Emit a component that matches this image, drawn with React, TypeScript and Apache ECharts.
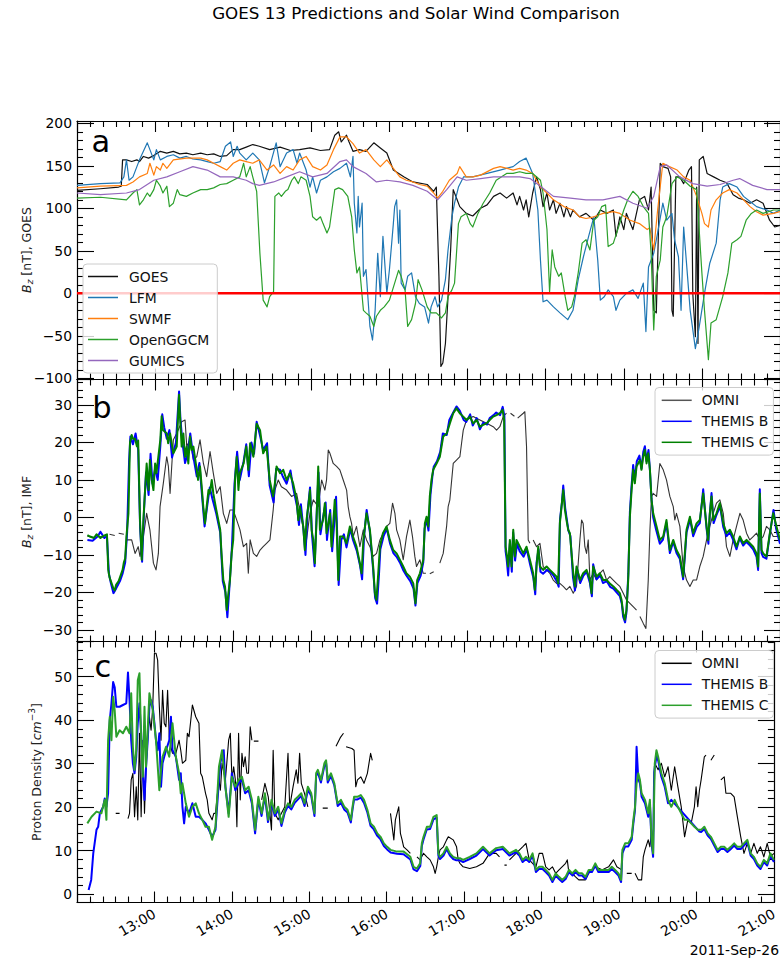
import React, { useEffect, useRef } from 'react';
import * as echarts from 'echarts';

// Time axis: minutes after 12:00 UT on 2011-09-26
type Pt = [number, number | null];

const chartTitle = 'GOES 13 Predictions and Solar Wind Comparison';
const dateLabel = '2011-Sep-26';
const hourTickLabels = ['12:00', '13:00', '14:00', '15:00', '16:00', '17:00', '18:00', '19:00', '20:00', '21:00'];
const panelLetters = ['a', 'b', 'c'];

const modelNames = ['GOES', 'LFM', 'SWMF', 'OpenGGCM', 'GUMICS'];
const windNames = ['OMNI', 'THEMIS B', 'THEMIS C'];

// ---- Panel a: Bz at GOES 13, observed and modelled [nT]
const goesBz: Pt[] = [[0,121],[18,123],[32,125],[34,126],[35,157],[38,157],[42,155],[46,157],[48,155],[51,161],[55,159],[59,162],[64,167],[69,165],[74,167],[79,164],[84,165],[89,163],[95,165],[100,163],[105,164],[110,161],[115,162],[120,169],[125,169],[130,172],[135,175],[140,173],[148,169],[156,172],[164,168],[171,169],[179,171],[187,168],[194,169],[198,186],[201,190],[203,178],[207,186],[209,178],[212,167],[217,169],[222,167],[228,177],[233,171],[238,165],[243,145],[251,137],[258,131],[269,128],[274,120],[276,125],[278,20],[279.5,-86],[281,-82],[283,-59],[285,-4],[287,51],[289,122],[292,110],[294,102],[299,94],[304,91],[310,100],[315,104],[320,114],[325,118],[330,112],[335,118],[338,104],[340,114],[343,98],[345,110],[347,90],[350,118],[353,137],[356,122],[358,102],[361,118],[363,98],[366,110],[368,94],[371,106],[374,90],[376,102],[379,90],[381,98],[386,90],[391,94],[397,86],[402,98],[407,94],[412,98],[414,67],[417,90],[420,75],[422,94],[427,75],[432,110],[436,114],[439,98],[441,125],[443,-20],[445,-23],[448,153],[450,149],[454,147],[456,137],[457,-20],[458,-27],[460,137],[463,137],[466,129],[470,145],[472,149],[473,0],[475,-51],[476,125],[477,-59],[478,157],[481,161],[484,141],[489,137],[494,133],[499,130],[504,116],[508,112],[512,110],[517,106],[522,110],[527,106],[532,86],[536,78],[540,80]];

const lfmBz: Pt[] = [[0,127],[18,129],[33,130],[36,137],[38,157],[40,133],[43,137],[46,149],[48,157],[54,177],[56,169],[59,157],[61,169],[64,157],[69,161],[74,163],[79,159],[84,161],[89,158],[95,157],[100,155],[105,153],[110,155],[114,173],[118,178],[120,161],[123,173],[125,165],[130,157],[135,165],[140,157],[144,130],[148,149],[153,177],[156,149],[161,165],[166,169],[169,153],[171,165],[176,145],[179,125],[181,137],[184,118],[187,133],[192,137],[197,143],[202,147],[207,153],[210,137],[212,161],[213,106],[215,71],[216,114],[217,78],[219,106],[220,20],[222,28],[225,-39],[227,-55],[229,-20],[231,47],[233,-4],[235,67],[238,0],[240,28],[243,82],[244,102],[245.5,110],[247,59],[248,98],[249,12],[252,4],[254,20],[257,24],[260,-4],[263,-12],[267,-16],[270,-35],[272,-16],[275,-4],[277,-16],[280,-8],[283,16],[285,51],[288,90],[290,106],[293,125],[297,137],[304,137],[315,141],[325,145],[335,149],[340,155],[345,159],[350,141],[354,98],[356,39],[358,-10],[361,-8],[366,-16],[371,-23],[377,-31],[381,-20],[385,16],[389,43],[393,67],[397,90],[400,39],[402,-8],[405,-4],[408,4],[412,-4],[414,-20],[417,-8],[422,0],[427,4],[431,-6],[435,12],[437,-45],[439,31],[443,47],[446,71],[450,106],[453,86],[457,94],[459,63],[462,43],[464,-20],[466,78],[468,39],[471,-20],[475,-65],[478,-39],[482,0],[486,35],[491,59],[494,110],[496,125],[501,129],[507,125],[512,114],[517,108],[522,102],[530,98],[535,94],[540,98]];

const swmfBz: Pt[] = [[0,124],[18,126],[38,127],[43,131],[48,137],[54,141],[56,153],[59,139],[61,149],[64,145],[66,153],[69,147],[74,157],[84,159],[95,159],[100,157],[105,153],[110,149],[115,145],[120,153],[125,157],[130,155],[135,153],[140,157],[146,145],[151,151],[156,141],[161,149],[166,145],[171,157],[176,161],[181,149],[187,145],[192,151],[197,169],[202,184],[207,184],[212,176],[217,165],[222,169],[228,157],[233,149],[238,157],[243,147],[248,137],[253,133],[258,131],[263,128],[269,126],[274,118],[277,112],[281,120],[286,133],[292,141],[294,149],[299,137],[304,137],[310,139],[320,147],[325,149],[335,145],[340,147],[345,145],[350,141],[356,125],[361,118],[366,110],[374,102],[381,98],[386,90],[391,88],[397,90],[404,94],[412,96],[417,94],[425,86],[432,82],[438,75],[440,77],[443,51],[446,98],[450,153],[455,149],[461,145],[466,137],[471,133],[476,114],[480,94],[482,82],[485,78],[487,98],[491,110],[496,118],[501,122],[507,118],[512,110],[517,102],[522,96],[527,92],[535,94],[540,96]];

const openggcmBz: Pt[] = [[0,112],[18,113],[38,110],[43,118],[46,122],[48,104],[51,110],[54,118],[56,114],[59,122],[61,133],[64,126],[66,118],[69,126],[71,102],[74,106],[77,122],[79,116],[84,114],[89,118],[95,122],[100,122],[105,124],[110,128],[115,129],[120,133],[125,137],[128,153],[130,137],[133,149],[135,137],[138,120],[140.5,47],[143,-8],[146,-16],[148,-4],[151,2],[152,114],[155,118],[157,114],[160,120],[162,122],[165,133],[167,137],[170,129],[172,137],[176,133],[179,114],[181,90],[184,86],[187,90],[189,82],[192,71],[194,78],[198,122],[201,124],[204,122],[208,114],[211,90],[213,51],[215,24],[217,31],[220,-20],[222,-23],[225,-27],[228,-39],[230,-27],[233,-20],[236,-16],[240,-8],[244,12],[247,27],[249,20],[252,4],[254,-39],[257,-31],[260,-12],[262,16],[265,4],[269,-16],[272,-23],[276,-23],[280,-29],[283,-23],[285,-4],[288,4],[290,12],[293,82],[295,90],[299,94],[302,82],[304,78],[308,94],[312,106],[317,118],[322,133],[330,141],[335,141],[340,143],[345,141],[350,141],[356,133],[358,118],[361,75],[363,2],[365,51],[367,31],[370,20],[372,24],[375,-4],[377,-20],[380,-16],[382,-4],[385,24],[388,59],[391,63],[394,51],[397,86],[400,90],[403,102],[406,104],[408,55],[412,59],[416,78],[420,98],[423,110],[427,120],[431,114],[435,102],[439,94],[441,47],[443,-43],[445,20],[448,39],[450,78],[453,90],[457,129],[461,137],[466,133],[471,126],[476,122],[480,24],[482,-20],[485,-78],[487,-35],[491,-31],[496,-4],[500,24],[503,59],[507,63],[510,67],[514,86],[518,94],[522,98],[527,94],[535,98],[540,98]];

const gumicsBz: Pt[] = [[0,118],[18,116],[38,118],[48,122],[59,133],[69,137],[79,143],[89,149],[100,145],[110,137],[120,137],[130,133],[135,129],[140,127],[151,131],[161,137],[171,143],[181,137],[192,141],[202,155],[207,157],[212,149],[222,141],[230,131],[238,133],[248,131],[258,127],[269,120],[277,110],[284,122],[292,137],[299,133],[310,135],[320,137],[330,137],[340,137],[348,135],[356,126],[366,114],[379,112],[391,110],[404,110],[417,114],[427,106],[438,100],[443,114],[448,149],[453,151],[463,137],[473,129],[484,126],[494,128],[504,133],[509,135],[519,127],[530,122],[540,122]];

const zeroLine: Pt[] = [[0,0],[540,0]];

// ---- Panel b: IMF Bz [nT]
const omniBz: Pt[] = [[8,-5],[12,-5.3],[13,null],[16,-5],[20,-5.2],[21,null],[25,-4.5],[29,-4.8],[30,null],[32,-4.2],[36,-4.5],[37,null],[38,-6],[42,-6],[44.6,-9.6],[47,-7.8],[48.4,-10.4],[51,-5.1],[53.5,1.1],[56,-3.3],[58.7,-12.2],[60.7,-14],[62.5,-9.6],[63.8,2.9],[66.3,9.1],[68.9,16.2],[70.2,13.6],[71.5,6.4],[74,20.7],[76.6,22.4],[80.4,25.5],[83,26],[84.3,18.9],[86.8,20.7],[89.4,15.3],[92,16.2],[94.5,20.7],[97.1,14.4],[99.6,10.9],[102.2,17.6],[104.7,11.8],[107.3,6.4],[110,8.2],[112.4,1.1],[115,-1.6],[117.5,2],[120,2],[122.7,-0.7],[125.2,-3.3],[127.8,-7.8],[130.3,-6.9],[131.6,-14.9],[133,-6],[135.5,-9.6],[138,-10.4],[140.6,-8.7],[143,-7.8],[145.6,-6.9],[148.2,-6],[150.7,2],[152,7.3],[154.6,10],[157,8.2],[161,7.3],[164.8,5.6],[168.7,6.4],[172.5,-0.7],[176.3,-6],[178.9,1.1],[181.5,4.7],[185.3,2.9],[187.9,10],[190.4,7.3],[191.7,10],[193,18],[194.3,17.1],[196.8,14.4],[199.4,13.6],[201.9,12.7],[204.5,10],[207.1,7.3],[208.3,2.9],[209.6,0.2],[210.9,-1.6],[212.2,-5.1],[214.7,-2.4],[217.3,-7.8],[219.9,-3.3],[222.4,-6],[225,-7.8],[227.5,-10.4],[230.1,-9.6],[232.7,-6],[235.2,-4.2],[237.8,-2.4],[240.3,-1.6],[242.4,3.8],[244.2,1.1],[245.5,-3.3],[248,-6],[250.6,-11.3],[253.1,-5.1],[255.7,-0.7],[257.7,-5.1],[259.5,-10.4],[260.8,-13.1],[263.4,-11.3],[265.9,-14.9],[268,-14.9],[269,null],[271,-15],[274,-14.5],[275,null],[278.7,-12.2],[281.3,-9.6],[283.9,-2.4],[285.1,2.9],[286.4,4.7],[289,14.4],[291.5,15.3],[294.1,16.2],[295.4,19.8],[296.7,23.3],[299.2,26],[304.3,26.9],[309.5,26],[314.6,25.1],[319.7,24.2],[322.3,23.3],[324.8,24.2],[327.4,26.9],[329.9,27.8],[331,null],[333,27.8],[336,27],[337,null],[338.5,26.5],[342.8,27.8],[344,28.2],[345.3,18.9],[346.6,-6],[347.9,-6.9],[349,null],[350.4,-6],[353,-7.8],[355.6,-6.9],[358.1,-13.1],[360.7,-14],[363.2,-14.9],[365.8,-16.7],[368.4,-17.6],[370.9,-17.6],[373.5,-18.4],[376,-19.3],[378.6,-18.4],[381.2,-20.2],[383.7,-18.4],[386.3,-6],[387.6,-0.7],[388.8,-1.6],[390.1,-7.8],[391.4,-9.6],[392.7,-6],[394,-16.7],[396.5,-14.9],[399.1,-16.7],[401.6,-14.9],[404.2,-14],[406.8,-16.7],[409.3,-15.8],[411.9,-16.7],[414.4,-17.6],[417,-18.4],[419.6,-20.2],[422.1,-22],[424.7,-22.9],[427.2,-23.8],[429.8,-24.7],[431,null],[432.4,-26.4],[434.9,-28.2],[437,-29.6],[438.8,-16.7],[440.1,-3.3],[441.3,5.6],[442.6,6.4],[445.2,5.6],[447.7,14.4],[450.3,12.7],[452.8,10],[455.4,5.6],[458,2.9],[459.2,-0.7],[460.5,1.1],[463.1,-2.4],[465.6,-13.1],[468.2,-16.7],[470.8,-18.4],[473.3,-16.7],[475.9,-16.7],[478.4,-13.1],[481,-10.4],[483.6,-6],[486.1,-2.4],[488.7,1.1],[491.2,3.8],[493.8,4.7],[496.4,1.1],[498.9,-7.8],[501.5,-10.4],[504,-6],[506.6,-2.4],[509.2,1.1],[511.7,-0.7],[514.3,-4.2],[516.8,-6],[519.4,-5.1],[522,-4.2],[524.5,-6],[527.1,-5.1],[529.6,-2.4],[532.2,-3.3],[534.8,-5.1],[540,-5.1]];

const themisBBz: Pt[] = [[8,-6],[12,-6.2],[16,-5],[18,-3.8],[21,-5.5],[23,-5],[24.5,-15],[26,-17.5],[28,-20.2],[30,-19],[33,-17],[35,-15],[37,-12],[38.5,-4],[40,15],[41,21.6],[43,19.5],[45,22.4],[47,18],[48.5,-3],[50,-11.8],[51.5,2],[53,12],[55,6],[56.5,17],[58,9],[60,13],[62,10],[64,19],[65.5,27.5],[67,24],[69,21],[71,23.3],[73,16],[76,20],[78.4,33.6],[79.5,26],[81,20],[83,14.5],[85,17],[87,22.4],[89,17],[92,11],[94,14.5],[96,6],[98,-2.4],[100,3],[102,8],[104,5],[107,1],[110,-4],[112,-17],[114,-20],[115.5,-26.6],[117,-19],[119,-8],[121,9],[123,17.5],[125,10],[128,15],[130,19.5],[132,11],[134,20],[136,17],[138,25.5],[140.5,22],[143,18],[146,19.8],[148,8.5],[151,4],[153,13],[156,12.7],[158,11],[161,9],[164,12.5],[166,8],[169,3],[170.5,-2],[172,3.5],[174,-3.5],[175.5,-10],[177,1],[179,8],[180.5,-4.5],[182.5,-13],[184,0],[185.5,12],[187,-4.5],[189,0],[191,4],[192,-6],[194.5,2],[196,-9],[197.5,-2],[199,5.5],[201,-18],[203,-6],[205,-4.5],[207,-8],[210,-3],[212,-6],[215,-9],[217.5,-13],[219,-16.5],[220.5,-5],[222.5,2],[225,-4],[227.5,-14],[229,-21.5],[230.5,-23],[232,-15],[233,-8.5],[235.5,-5],[238,-3],[240.5,-7],[243,-9.5],[245.5,-10.5],[248,-12],[250.5,-14],[253,-15.5],[256,-17],[258.5,-19],[260,-23.5],[261.5,-17.5],[264,-15.5],[266,-12],[267,-3],[268.5,-0.5],[270,-3.5],[271.5,6],[273,11],[274,13.5],[276.5,15],[279,17.5],[281,22.4],[284,22],[286,26],[289,28],[291.5,29.6],[294,28.5],[297,26],[299,25.5],[302,27.5],[304,24.5],[307,26.5],[309.5,23.5],[312,25.3],[315,24.8],[317,26.5],[320,27.3],[322,28],[325,27.3],[327,29.5],[328.3,27],[329.2,-9],[330,-11],[331.2,-15.5],[332.5,-7],[334,-14.5],[335,-4],[336.5,-11.5],[338,-7],[340,-9],[343,-10.5],[345.5,-8.5],[348,-12.5],[350.5,-16],[352,-20.5],[353,-12],[354.5,-8.5],[356,-14.5],[358,-15],[361,-14],[363.5,-14.5],[366,-15.5],[368.5,-17],[370,-18.5],[371,-0.5],[372.5,4],[373.5,8.5],[375,2.5],[376,0],[377.5,-3.5],[379,-5],[380,-10.5],[381,-16],[382.5,-19.5],[384,-13.5],[386.5,-17.5],[389,-15.5],[391.5,-14.5],[394,-17.5],[395.5,-21],[396.5,-12.5],[399,-16.5],[402,-15.5],[404,-17.5],[407,-17],[409.5,-18.5],[412,-19],[414.5,-20],[417,-21],[418.5,-23],[419.5,-26.5],[421,-28],[422,-25.5],[423.5,-15],[424.7,1.5],[426,8.5],[427.2,14],[428.5,10],[430,15],[432,16.5],[433.6,13],[435,17.5],[436.2,19],[437.5,15],[439,18],[440,13],[441.3,5],[442.6,0],[445,-3.5],[447.7,-7],[450,-6],[452.8,-1.5],[455.4,-9.5],[458,-6.5],[460.5,-9.5],[463,-11],[465.6,-16.5],[467,-10],[468.2,-4],[471,-0.5],[473.3,-5],[476,-2.5],[478.4,-1.5],[481,7.5],[483.6,-3],[485,-7],[486,0.5],[487.4,6.5],[489,-1.5],[491,0.5],[494,3],[496.4,-2.5],[499,-5],[501.5,-4],[504,-6],[506.6,-8.5],[509,-5.5],[511.7,-7.5],[514,-6.5],[517,-7.5],[519.4,-8.5],[522,-10.5],[523.2,-14],[524.5,7.5],[525.8,-9.5],[527,-10.5],[529.6,-11],[532,-5],[535,2],[537,-3],[540,-7]];

const themisCBz: Pt[] = [[8,-4.7],[10,-5.1],[13,-5.5],[15,-4.5],[18,-5.5],[20,-5],[23,-4.5],[24,-14],[25,-16],[28,-19],[29,-19.5],[30,-18],[32,-17],[33,-16],[35,-14],[36,-12],[37,-11],[38,-5],[39.5,1],[40.7,20],[42,22],[43,21],[44.6,21],[46,19],[47,20.5],[48.4,-0.7],[49.7,-11.3],[51,-0.7],[52,5.6],[53.5,14.4],[55,7.3],[56,15.3],[57.4,10],[58.7,7.3],[60,14.4],[61,11.8],[64,20.7],[65,27],[66,23.3],[69,22.4],[70,19.8],[71.5,22.4],[74,17.1],[76.6,18.9],[78.4,32.7],[79,27.8],[80.4,18.9],[81.7,22.4],[83,16.2],[84.3,18.9],[85.5,14.4],[86.8,21.6],[88,18],[89.4,18.9],[92,12.7],[93,10],[94.5,13.6],[96,7.3],[97,2.9],[98.3,-1.6],[99.6,2.9],[101,7.3],[102,6.4],[103.5,10],[104.7,6.4],[107,2],[110,-3.3],[111,-9.6],[112.4,-16.7],[113.7,-18.4],[115,-24.7],[116.3,-20.2],[117.5,-16.7],[118.8,-9.6],[120,-6],[121.4,10],[122.7,16.2],[124,7.3],[125,11.8],[128,14.4],[130,18.9],[131.6,12.7],[133,19.8],[135.5,16.2],[138,25],[140.6,23.3],[143,17.1],[145.6,18.9],[148,10],[150.7,5.6],[152,9.1],[153.3,13.6],[156,11.8],[158.4,12.7],[161,10],[163.5,11.8],[166,9.1],[168.7,4.7],[170,-0.7],[171.2,2.9],[173.8,-2.4],[175,-8.7],[176.3,-0.7],[177.6,2.9],[179,7.3],[180.2,-3.3],[181.5,-6],[182.7,-12.2],[184,-0.7],[185.3,13.6],[186.6,-3.3],[189,-0.7],[190.4,3.8],[191.7,-4.2],[194.3,1.1],[195.5,-7.8],[196.8,-1.6],[198,4.7],[199.4,-1.6],[200.7,-16.7],[202,-5.1],[204.5,-5.1],[207,-6.9],[209.6,-2.4],[212,-5.1],[214.7,-7.8],[217.3,-12.2],[218.6,-14.9],[220,-6],[222.4,1.1],[225,-3.3],[227.5,-13.1],[228.8,-20.2],[230,-22],[231.4,-14.9],[232.7,-7.8],[235,-4.2],[237.8,-2.4],[240.3,-6],[242.9,-8.7],[245.5,-9.6],[248,-11.3],[250.6,-13.1],[253,-14.9],[255.7,-15.8],[258.3,-17.6],[260,-22.9],[261.3,-16.7],[263.4,-14.9],[266,-11.3],[267.2,-1.6],[268.5,0.2],[269.8,-2.4],[271,5.6],[272.3,10],[273.6,12.7],[276.2,14.4],[278.7,16.2],[281.3,21.6],[284,22.4],[286.4,25.1],[289,27.8],[291.5,29.1],[294,27.8],[296.7,26.9],[299.2,26],[301.8,26.9],[304.3,25.1],[307,26],[309.5,24.2],[312,24.7],[314.6,25.1],[317,26],[319.7,26.9],[322.3,27.3],[324.8,27.8],[326.9,28.7],[328.1,26],[329.2,-7.8],[330,-9.6],[331.2,-13.1],[332.5,-6],[333.8,-13.1],[335.1,-3.3],[336.3,-10.4],[337.6,-6],[340.2,-7.8],[342.8,-9.6],[345.3,-7.8],[347.9,-11.3],[350.4,-14.9],[351.7,-19.3],[353,-13.1],[354.3,-7.8],[355.6,-13.1],[358.1,-14],[360.7,-13.1],[363.2,-14],[365.8,-14.9],[368.4,-15.8],[369.6,-17.6],[370.9,-1.6],[372.2,2.9],[373.5,7.3],[374.8,2],[376,-0.7],[377.3,-3.3],[378.6,-4.2],[379.9,-9.6],[381.2,-14.9],[382.4,-18.4],[383.7,-13.1],[386.3,-16.7],[388.8,-14.9],[391.4,-14],[394,-16.7],[395.2,-20.2],[396.5,-13.1],[399.1,-15.8],[401.6,-14.9],[404.2,-16.7],[406.8,-16.7],[409.3,-17.6],[412,-18.4],[414.4,-19.3],[417,-20.2],[418.3,-22],[419.6,-25.6],[420.8,-27.3],[422.1,-24.7],[423.4,-16.7],[424.7,0.2],[426,7.3],[427.2,12.7],[428.5,9.1],[429.8,13.6],[432.4,15.3],[433.6,12.7],[434.9,16.2],[436.2,18],[437.5,14.4],[438.8,17.1],[440.1,12.7],[441.3,4.7],[442.6,1.1],[445.2,-2.4],[447.7,-6],[450.3,-5.1],[452.8,-0.7],[455.4,-8.7],[458,-6],[460.5,-8.7],[463.1,-10.4],[465.6,-15.8],[466.9,-9.6],[468.2,-3.3],[470.8,0.2],[473.3,-4.2],[475.9,-1.6],[478.4,-0.7],[481,6.4],[483.6,-2.4],[484.8,-6],[486.1,1.1],[487.4,5.6],[488.7,-0.7],[491.2,1.1],[493.8,3.8],[496.4,-1.6],[498.9,-4.2],[501.5,-3.3],[504,-5.1],[506.6,-7.8],[509.2,-5.1],[511.7,-6.9],[514.3,-6],[516.8,-6.9],[519.4,-7.8],[522,-9.6],[523.2,-13.1],[524.5,6.4],[525.8,-8.7],[527.1,-9.6],[529.6,-10.4],[532.2,-4.2],[534.8,1.1],[537.3,-2.4],[540,-6]];

// ---- Panel c: proton density [cm^-3]
const omniDensity: Pt[] = [[30,18.6],[33,18.6],[34,null],[39.5,17.4],[40.7,18.6],[42,26.3],[43.3,27.8],[44.6,17.8],[45.9,24.7],[47.1,17.1],[48.4,37],[49.7,17.8],[51,35.4],[52.3,18.6],[53.5,29.3],[54.8,36.2],[56.1,40.8],[57.4,37.7],[58.7,43.1],[60,55.4],[61.2,55.4],[62.5,53.8],[63.8,43.1],[65.1,35.4],[66.3,46.9],[67.6,39.3],[68.9,38.5],[70.2,46.9],[71.5,36.2],[72.7,33.9],[74,32.4],[76.6,32.4],[79.1,35.4],[80.4,33.1],[81.7,30.1],[84.3,30.8],[85.5,37],[86.8,36.2],[89.4,43.5],[92,40.8],[94.5,39.3],[95.8,27.8],[97.1,27],[99.6,23.2],[100.9,21.7],[102.2,18.6],[104.7,17.1],[106,18.6],[107.3,18.6],[109.9,26.3],[111.1,23.9],[112.4,30.1],[115,26.3],[117.5,35.4],[118.8,37],[120.1,26.3],[121.4,29.3],[122.7,26.3],[123.9,15.5],[125.2,37],[126.5,21.7],[127.8,32.4],[129,29.3],[130.3,31.6],[131.6,27.8],[132.9,27.8],[134.2,38.5],[135.5,35.4],[136,null],[137,35.2],[140.6,35.2],[141.5,null],[143.1,21.7],[145.6,25.5],[148.2,22.4],[150.7,14.8],[152,33.1],[153.3,18.6],[155.9,17.1],[158.4,18.6],[161,20.1],[163.5,32.4],[164.8,20.1],[167.4,24.7],[169.9,28.6],[171.2,25.5],[172.5,32.4],[173.8,25.5],[176.3,23.2],[178.9,20.1],[180,null],[190.4,19.8],[194.3,19.8],[195,null],[200.7,34],[204,36],[206.5,37],[207,null],[208.5,33.9],[213,33.5],[214.7,33.1],[216,24.7],[217.3,26.3],[219.9,27],[222.4,25.5],[225,27.8],[227.5,32.4],[228.8,30.8],[229.5,null],[242.9,18.6],[245.5,12.5],[246.7,17.1],[249.3,20.1],[250.6,14],[251.9,12.5],[253.1,10.9],[255.7,10.2],[258.3,9.4],[259,null],[263.4,8.6],[265.9,7.9],[268.5,9.4],[271.1,8.6],[273.6,7.9],[276.2,6.3],[277.5,4.8],[278.7,6.3],[280,8.6],[281.3,10.2],[283.9,10.9],[286.4,12.5],[287.7,13.2],[291.5,12.5],[294.1,10.9],[295.4,7.9],[296.7,7.1],[299.2,6.3],[304.3,5.9],[309.5,6.3],[314.6,7.1],[319.7,9.4],[324.8,9.4],[327.4,8.6],[328,null],[331.2,6.7],[333,6.7],[334,null],[335.1,7.9],[340.2,9.4],[345.3,10.9],[347.9,11.7],[350.4,7.9],[355.6,6.3],[358.1,9.4],[360.7,9.4],[363.2,6.3],[365.8,5.6],[368.4,6.3],[370.9,4.8],[373.5,5.6],[378.6,7.1],[379.9,7.9],[381.2,4.8],[383.7,4.8],[386.3,4],[388.8,3.3],[391.4,3.3],[394,3.3],[396.5,4.8],[401.6,6.3],[406.8,5.6],[411.9,6.3],[415.7,7.9],[418.3,6.3],[422.1,5.6],[423,null],[426,4.8],[429.8,4.8],[431,null],[432.4,4.8],[434.9,3.3],[437.5,3.3],[438.8,8.6],[440.1,10.2],[442.6,12.5],[443.9,10.9],[445.2,14.8],[446.4,9.4],[447.7,30.1],[450.3,28.6],[452.8,30.1],[455.4,27],[458,29.3],[460.5,23.9],[463.1,29.3],[465.6,24.7],[468.2,20.1],[470.8,13.2],[473.3,17.1],[475.9,16.3],[478.4,20.1],[479.7,24.7],[481,20.1],[482.3,23.9],[483.6,26.3],[486.1,31.6],[487.4,32],[488.5,null],[491.2,30.8],[493.8,32],[495,null],[498.9,26.3],[501.5,27],[502.8,23.2],[506.6,23.2],[509.2,22.4],[511.7,17.8],[514.3,13.2],[516.8,9.4],[519.4,11.7],[522,9.4],[524.5,11.7],[527.1,9.4],[529.6,10.9],[532.2,8.6],[534.8,11.7],[537.3,8.6],[540,9.4]];

const themisBDensity: Pt[] = [[9,1],[11,3.3],[12.6,9.4],[15.1,14.8],[16.4,15.5],[17.7,18.6],[20.3,20.1],[21.5,22],[22.8,20.1],[24.1,23.2],[25.4,40],[26.7,43.9],[28,48.8],[29.2,47.6],[30.5,43.1],[33,43.1],[35.6,43.5],[38.2,43.9],[39.5,51],[40.7,44.6],[42,35.4],[43.3,30.1],[44.6,27.8],[45.9,31.6],[47.1,39.3],[48.4,43.9],[49.7,37],[51,27.8],[52.3,21.7],[53.5,29.3],[54.8,35.4],[56.1,43.1],[57.4,44.6],[58.7,43.1],[60,39.3],[61.2,35.4],[62.5,33.1],[63.8,37],[65.1,24.7],[66.3,30.1],[67.6,31.6],[69,33.1],[71.5,35.4],[72.8,40.8],[74,33.1],[76.6,31.6],[79.1,26.3],[80.4,27.8],[81.7,20.1],[83,16.3],[84.3,20.1],[86.8,18.6],[89.4,20.9],[92,17.8],[94.5,17.8],[97.1,17.1],[99.6,16.3],[102.2,14.8],[104.7,13.2],[107.3,14.8],[110,26.3],[111.1,30.1],[112.4,32.4],[113.7,33.1],[115,24.7],[117.5,18.6],[120,27.8],[122.7,23.9],[125.2,25.5],[127.8,26.3],[130.3,23.2],[133,23.9],[135.5,20.9],[138,14],[140.5,21.8],[143,18],[145.6,22.6],[148,16.6],[150.7,21],[153.3,18],[156,19.5],[158.4,15.7],[161,18.8],[163.5,20.3],[166,19.5],[168.7,21],[171.2,21.8],[173.8,22.6],[176.3,20.3],[179,24],[181.5,22.6],[184,18],[185.3,27.2],[186.6,28],[189,25.7],[191.7,29.5],[193,30.2],[194.3,25.7],[196.8,27.2],[199.4,25],[202,20.3],[204.5,21],[207,19.5],[209.6,18.8],[212.2,16.5],[213.5,19.5],[214.7,21.8],[217.3,21.8],[220,22.2],[222.4,21],[225,18.8],[227.5,15.7],[230,14.9],[232.7,13.4],[235.2,12.6],[237.8,11.1],[240.3,10.3],[243,9.6],[248,9.3],[253,9.2],[258.3,8],[260.8,5.7],[263.4,5.3],[266,6.5],[267.2,11.1],[268.5,12.6],[271,14.9],[273.6,15],[276.2,17.2],[278.7,17.6],[280,8.9],[281.3,8.1],[284,8.9],[286.4,10.4],[289,8.9],[291.5,8.1],[294,7.8],[296.7,7.8],[299.2,7.4],[304.3,8.1],[309.5,8.9],[314.6,10.4],[319.7,8.9],[324.8,10.1],[330,10.4],[335,8.9],[340,9.7],[342.8,8.9],[345.3,7.4],[348,8.1],[350.4,7.4],[353,8.9],[355.6,5.1],[358,5.8],[360.7,5.8],[363.2,5.1],[365.8,4.3],[368.4,2.8],[371,4.3],[373.5,3.5],[376,2.8],[378.6,3.5],[381.2,5.1],[384,4.3],[386.3,5.1],[389,4.3],[391.4,4.3],[394,3.5],[396.5,5.1],[399,5.1],[401.6,6.6],[404,5.1],[407,5.1],[409.3,5.1],[412,5.1],[414.4,5.8],[417,5.1],[419.6,4.3],[421.6,2.8],[422.6,9.4],[424.7,11],[427.2,11],[429.8,12.5],[431.1,16.3],[432.4,19.4],[433.6,33.9],[434.9,26.5],[436.2,25.5],[437.5,22.4],[440.1,20.9],[442.6,17.8],[443.9,21],[445.2,11.7],[446.4,8.6],[447.2,28],[447.7,29.3],[449,31.6],[450.3,30.8],[452.8,27],[455.4,24.7],[458,20.9],[460.5,21.7],[482.3,14.4],[483.6,14.3],[486.1,15],[488.7,13.5],[491.2,12.7],[493.8,11.2],[496.4,9.7],[498.9,10.4],[501.5,10.4],[504,9.7],[506.6,10.4],[509.2,11.2],[511.7,10.4],[514.3,10.4],[516.8,11.2],[519.4,12],[522,8.9],[524.5,8.1],[527.1,6.6],[529.6,5.8],[532.2,7.4],[534.8,6.6],[537.3,8.9],[540,7.4]];

const themisCDensity: Pt[] = [[8,16.3],[11.3,17.8],[15.1,19],[18.9,18.6],[21.5,21.7],[22.8,17.1],[24.1,35.4],[25.4,40.8],[26.7,35.4],[28,45.4],[29.2,42.3],[30.5,36.2],[33,37.7],[35.6,37],[38.2,38.5],[40.7,37],[42,46.2],[43.3,33.9],[44.6,28.6],[45.9,33.1],[47.1,49.2],[48.4,50.8],[49.7,35.4],[51,27],[52.3,43.1],[53.5,29.3],[56.1,46.2],[58.7,42.3],[61.2,35.4],[63.8,23.9],[65.1,28.6],[66.3,31.6],[69,33.9],[71.5,31.6],[74,39.3],[76.6,31.6],[79.1,27.8],[80.4,23.2],[81.7,25.5],[84.3,20.9],[86.8,17.8],[89.4,20.1],[92,20.9],[94.5,18.6],[97.1,17.1],[99.6,15.5],[102.2,15.5],[104.7,12.5],[107.3,15.5],[110,29.3],[112.4,33.1],[115,24.7],[117.5,17.8],[120,27],[122.7,24.7],[125.2,26.3],[127.8,27],[130.3,23.9],[133,24.7],[135.5,21.7],[138,14.8],[140.5,22.4],[143.1,18.6],[145.6,23.2],[148.2,17.1],[150.7,21.7],[153.3,18.6],[155.9,20.1],[158.4,16.3],[161,19.4],[163.5,20.9],[166.1,20.1],[168.7,21.7],[171.2,22.4],[173.8,23.2],[176.3,20.9],[178.9,24.7],[181.5,23.2],[184,18.6],[185.3,27.8],[186.6,28.6],[189.1,26.3],[191.7,30.1],[193,30.8],[194.3,26.3],[196.8,27.8],[199.4,25.5],[201.9,20.9],[204.5,21.7],[207.1,20.1],[209.6,19.4],[212.2,17.1],[213.5,20.1],[214.7,22.4],[217.3,22.4],[219.9,22.8],[222.4,21.7],[225,19.4],[227.5,16.3],[230.1,15.5],[232.7,14],[235.2,13.2],[237.8,11.7],[240.3,10.9],[242.9,10.2],[248,9.8],[253.1,9.8],[258.3,8.6],[260.8,6.3],[263.4,5.9],[265.9,7.1],[267.2,11.7],[268.5,13.2],[271.1,15.5],[273.6,15.5],[276.2,17.8],[278.7,18.2],[280,9.4],[281.3,8.6],[283.9,9.4],[286.4,10.9],[289,9.4],[291.5,8.6],[294.1,8.3],[296.7,8.3],[299.2,7.9],[304.3,8.6],[309.5,9.4],[314.6,10.9],[319.7,9.4],[324.8,10.6],[329.9,10.9],[335.1,9.4],[340.2,10.2],[342.8,9.4],[345.3,7.9],[347.9,8.6],[350.4,7.9],[353,9.4],[355.6,5.6],[358.1,6.3],[360.7,6.3],[363.2,5.6],[365.8,4.8],[368.4,3.3],[370.9,4.8],[373.5,4],[376,3.3],[378.6,4],[381.2,5.6],[383.7,4.8],[386.3,5.6],[388.8,4.8],[391.4,4.8],[394,4],[396.5,5.6],[399.1,5.6],[401.6,7.1],[404.2,5.6],[406.8,5.6],[409.3,5.6],[411.9,5.6],[414.4,6.3],[417,5.6],[419.6,4.8],[421.6,3.3],[422.6,10.2],[424.7,11.7],[427.2,11.7],[429.8,13.2],[431.1,17.1],[432.4,20.1],[433.6,25.5],[434.9,27.8],[436.2,26.3],[437.5,23.2],[440.1,21.7],[442.6,18.6],[443.9,21.7],[445.2,12.5],[446.4,9.4],[447.7,30.1],[449,33.1],[450.3,31.6],[452.8,27.8],[455.4,25.5],[458,21.7],[460.5,20.1],[463.1,21.7],[465.6,20.1],[468.2,18.6],[470.8,17.1],[473.3,17.1],[475.9,16.3],[478.4,15.5],[481,14.8],[483.6,14.8],[486.1,15.5],[488.7,14],[491.2,13.2],[493.8,11.7],[496.4,10.2],[498.9,10.9],[501.5,10.9],[504,10.2],[506.6,10.9],[509.2,11.7],[511.7,10.9],[514.3,10.9],[516.8,11.7],[519.4,12.5],[522,9.4],[524.5,8.6],[527.1,7.1],[529.6,6.3],[532.2,7.9],[534.8,7.1],[537.3,9.4],[540,7.9]];

const FONT = "'DejaVu Sans', 'Liberation Sans', sans-serif";

// Panel frames (pixel layout) and value ranges
const panels = [
  { top: 121, height: 258.5, min: -101.4, max: 202.7, split: 6 },
  { top: 379.5, height: 262, min: -33.1, max: 36.8, split: 7 },
  { top: 641.5, height: 261, min: -1.9, max: 58.1, split: 6 },
];
const GRID_LEFT = 77;
const GRID_WIDTH = 704;

const fmtNum = (v: number) => (v < 0 ? '\u2212' + Math.abs(v) : String(v));

function line(name: string, data: Pt[], color: string, width: number, axis: number, z = 2) {
  return {
    type: 'line',
    name,
    data,
    xAxisIndex: axis * 2,
    yAxisIndex: axis * 2,
    showSymbol: false,
    symbol: 'none',
    connectNulls: false,
    silent: true,
    animation: false,
    z,
    lineStyle: { color, width, join: 'round' },
    itemStyle: { color },
  };
}

export default function App() {
  const ref = useRef<HTMLDivElement>(null);

  useEffect(() => {
    if (!ref.current) return;
    const chart = echarts.init(ref.current, undefined, { renderer: 'svg' });

    const tickLine = { color: '#000', width: 1.1 };
    const xAxes: any[] = [];
    const yAxes: any[] = [];
    panels.forEach((p, i) => {
      const xBase = {
        type: 'value', gridIndex: i, min: 0, max: 540, interval: 60,
        axisLine: { show: true, onZero: false, lineStyle: { color: '#000', width: 1.2 } },
        axisTick: { show: true, inside: true, length: 11, lineStyle: tickLine },
        minorTick: { show: true, splitNumber: 6, length: 6, lineStyle: tickLine },
        splitLine: { show: false },
      };
      xAxes.push({
        ...xBase, position: 'bottom',
        axisLabel: i === 2 ? {
          show: true, rotate: 30, margin: 10, fontSize: 13.9, fontFamily: FONT, color: '#000',
          showMinLabel: false,
          formatter: (v: number) => hourTickLabels[Math.round(v / 60)] ?? '',
        } : { show: false },
      });
      xAxes.push({ ...xBase, position: 'top', axisLabel: { show: false } });

      const yBase = {
        type: 'value', gridIndex: i, min: p.min, max: p.max, splitNumber: p.split,
        axisLine: { show: true, onZero: false, lineStyle: { color: '#000', width: 1.2 } },
        minorTick: { show: true, splitNumber: 5, length: 6, lineStyle: tickLine },
        splitLine: { show: false },
      };
      yAxes.push({
        ...yBase, position: 'left',
        axisTick: { show: true, inside: true, length: 17, lineStyle: tickLine },
        axisLabel: {
          show: true, margin: 5, fontSize: 13.9, fontFamily: FONT, color: '#000',
          showMinLabel: false, showMaxLabel: false, formatter: fmtNum,
        },
      });
      yAxes.push({
        ...yBase, position: 'right',
        axisTick: { show: true, inside: true, length: 16, lineStyle: tickLine },
        axisLabel: { show: false },
      });
    });

    const legendBase = {
      orient: 'vertical', icon: 'rect', itemWidth: 30, itemHeight: 1.5, itemGap: 7,
      backgroundColor: 'rgba(255,255,255,0.8)', borderColor: '#cccccc', borderWidth: 1, borderRadius: 4,
      selectedMode: false, z: 10,
    };

    const ylabelRich = {
      i: { fontStyle: 'italic', fontSize: 12.5, fontFamily: FONT, lineHeight: 17, fill: '#222' },
      s: { fontStyle: 'italic', fontSize: 9, fontFamily: FONT, lineHeight: 9, verticalAlign: 'bottom', fill: '#222' },
      p: { fontSize: 9, fontFamily: FONT, lineHeight: 9, verticalAlign: 'top', fill: '#222' },
      t: { fontSize: 12.5, fontFamily: FONT, lineHeight: 17, fill: '#222' },
    };
    const yLabel = (text: string, x: number, y: number) => ({
      type: 'text', x, y, rotation: Math.PI / 2, z: 20,
      style: { text, rich: ylabelRich, fontSize: 12.5, fontFamily: FONT, fill: '#222', align: 'center', verticalAlign: 'middle' },
    });
    const letter = (t: string, x: number, y: number) => ({
      type: 'text', x, y, z: 20,
      style: { text: t, fontSize: 30.5, fontFamily: FONT, fill: '#000', align: 'left', verticalAlign: 'middle' },
    });

    chart.setOption({
      animation: false,
      backgroundColor: '#ffffff',
      grid: panels.map((p) => ({ left: GRID_LEFT, top: p.top, width: GRID_WIDTH, height: p.height })),
      xAxis: xAxes,
      yAxis: yAxes,
      legend: [
        {
          ...legendBase, data: modelNames, left: 83, top: 264, padding: [5.5, 8, 5.5, 5],
          textStyle: { fontSize: 13.9, fontFamily: FONT, color: '#111', lineHeight: 14, padding: [0, 0, 0, 6] },
        },
        {
          ...legendBase, data: [{ name: windNames[0], itemStyle: { color: '#555555' } }, windNames[1], windNames[2]],
          left: 655, top: 387.5, padding: [5.8, 5, 5.8, 6.7],
          textStyle: { fontSize: 13.9, fontFamily: FONT, color: '#111', lineHeight: 14, padding: [0, 0, 0, 5] },
        },
        {
          ...legendBase,
          data: [
            { name: windNames[0], itemStyle: { color: '#000000' } },
            { name: windNames[1], itemStyle: { color: '#0000ff' } },
            { name: windNames[2], itemStyle: { color: '#2ca02c' } },
          ],
          left: 655, top: 650.5, padding: [5.8, 5, 5.8, 6.7],
          textStyle: { fontSize: 13.9, fontFamily: FONT, color: '#111', lineHeight: 14, padding: [0, 0, 0, 5] },
        },
      ],
      graphic: [
        {
          type: 'text', x: 416, y: 13, z: 20,
          style: { text: chartTitle, fontSize: 16.7, fontFamily: FONT, fill: '#000', align: 'center', verticalAlign: 'middle' },
        },
        letter(panelLetters[0], 91.5, 141.5),
        letter(panelLetters[1], 92.3, 407.5),
        letter(panelLetters[2], 94.5, 666),
        yLabel('{i|B}{s|z}{t| [nT], GOES}', 26, 250),
        yLabel('{i|B}{s|z}{t| [nT], IMF}', 26, 512),
        yLabel('{t|Proton Density [}{i|cm}{p|\u22123}{t|]}', 36, 772),
        {
          type: 'text', x: 779, y: 950, z: 20,
          style: { text: dateLabel, fontSize: 13.9, fontFamily: FONT, fill: '#000', align: 'right', verticalAlign: 'middle' },
        },
      ],
      series: [
        line(modelNames[0], goesBz, '#111111', 1.2, 0),
        line(modelNames[1], lfmBz, '#1f77b4', 1.2, 0),
        line(modelNames[2], swmfBz, '#ff7f0e', 1.2, 0),
        line(modelNames[3], openggcmBz, '#2ca02c', 1.2, 0),
        line(modelNames[4], gumicsBz, '#9467bd', 1.2, 0),
        line('zero', zeroLine, '#ff0000', 2.4, 0, 3),
        line(windNames[0], omniBz, 'rgba(0,0,0,0.8)', 1.1, 1),
        line(windNames[1], themisBBz, '#0000ff', 2, 1),
        line(windNames[2], themisCBz, '#008000', 2, 1),
        line(windNames[0], omniDensity, '#000000', 1.1, 2),
        line(windNames[1], themisBDensity, '#0000ff', 2, 2),
        line(windNames[2], themisCDensity, '#2ca02c', 2, 2),
      ],
    });

    return () => chart.dispose();
  }, []);

  return (
    <div
      ref={ref}
      style={{ position: 'absolute', left: 0, top: 0, width: 780, height: 962, background: '#fff', overflow: 'hidden' }}
    />
  );
}
